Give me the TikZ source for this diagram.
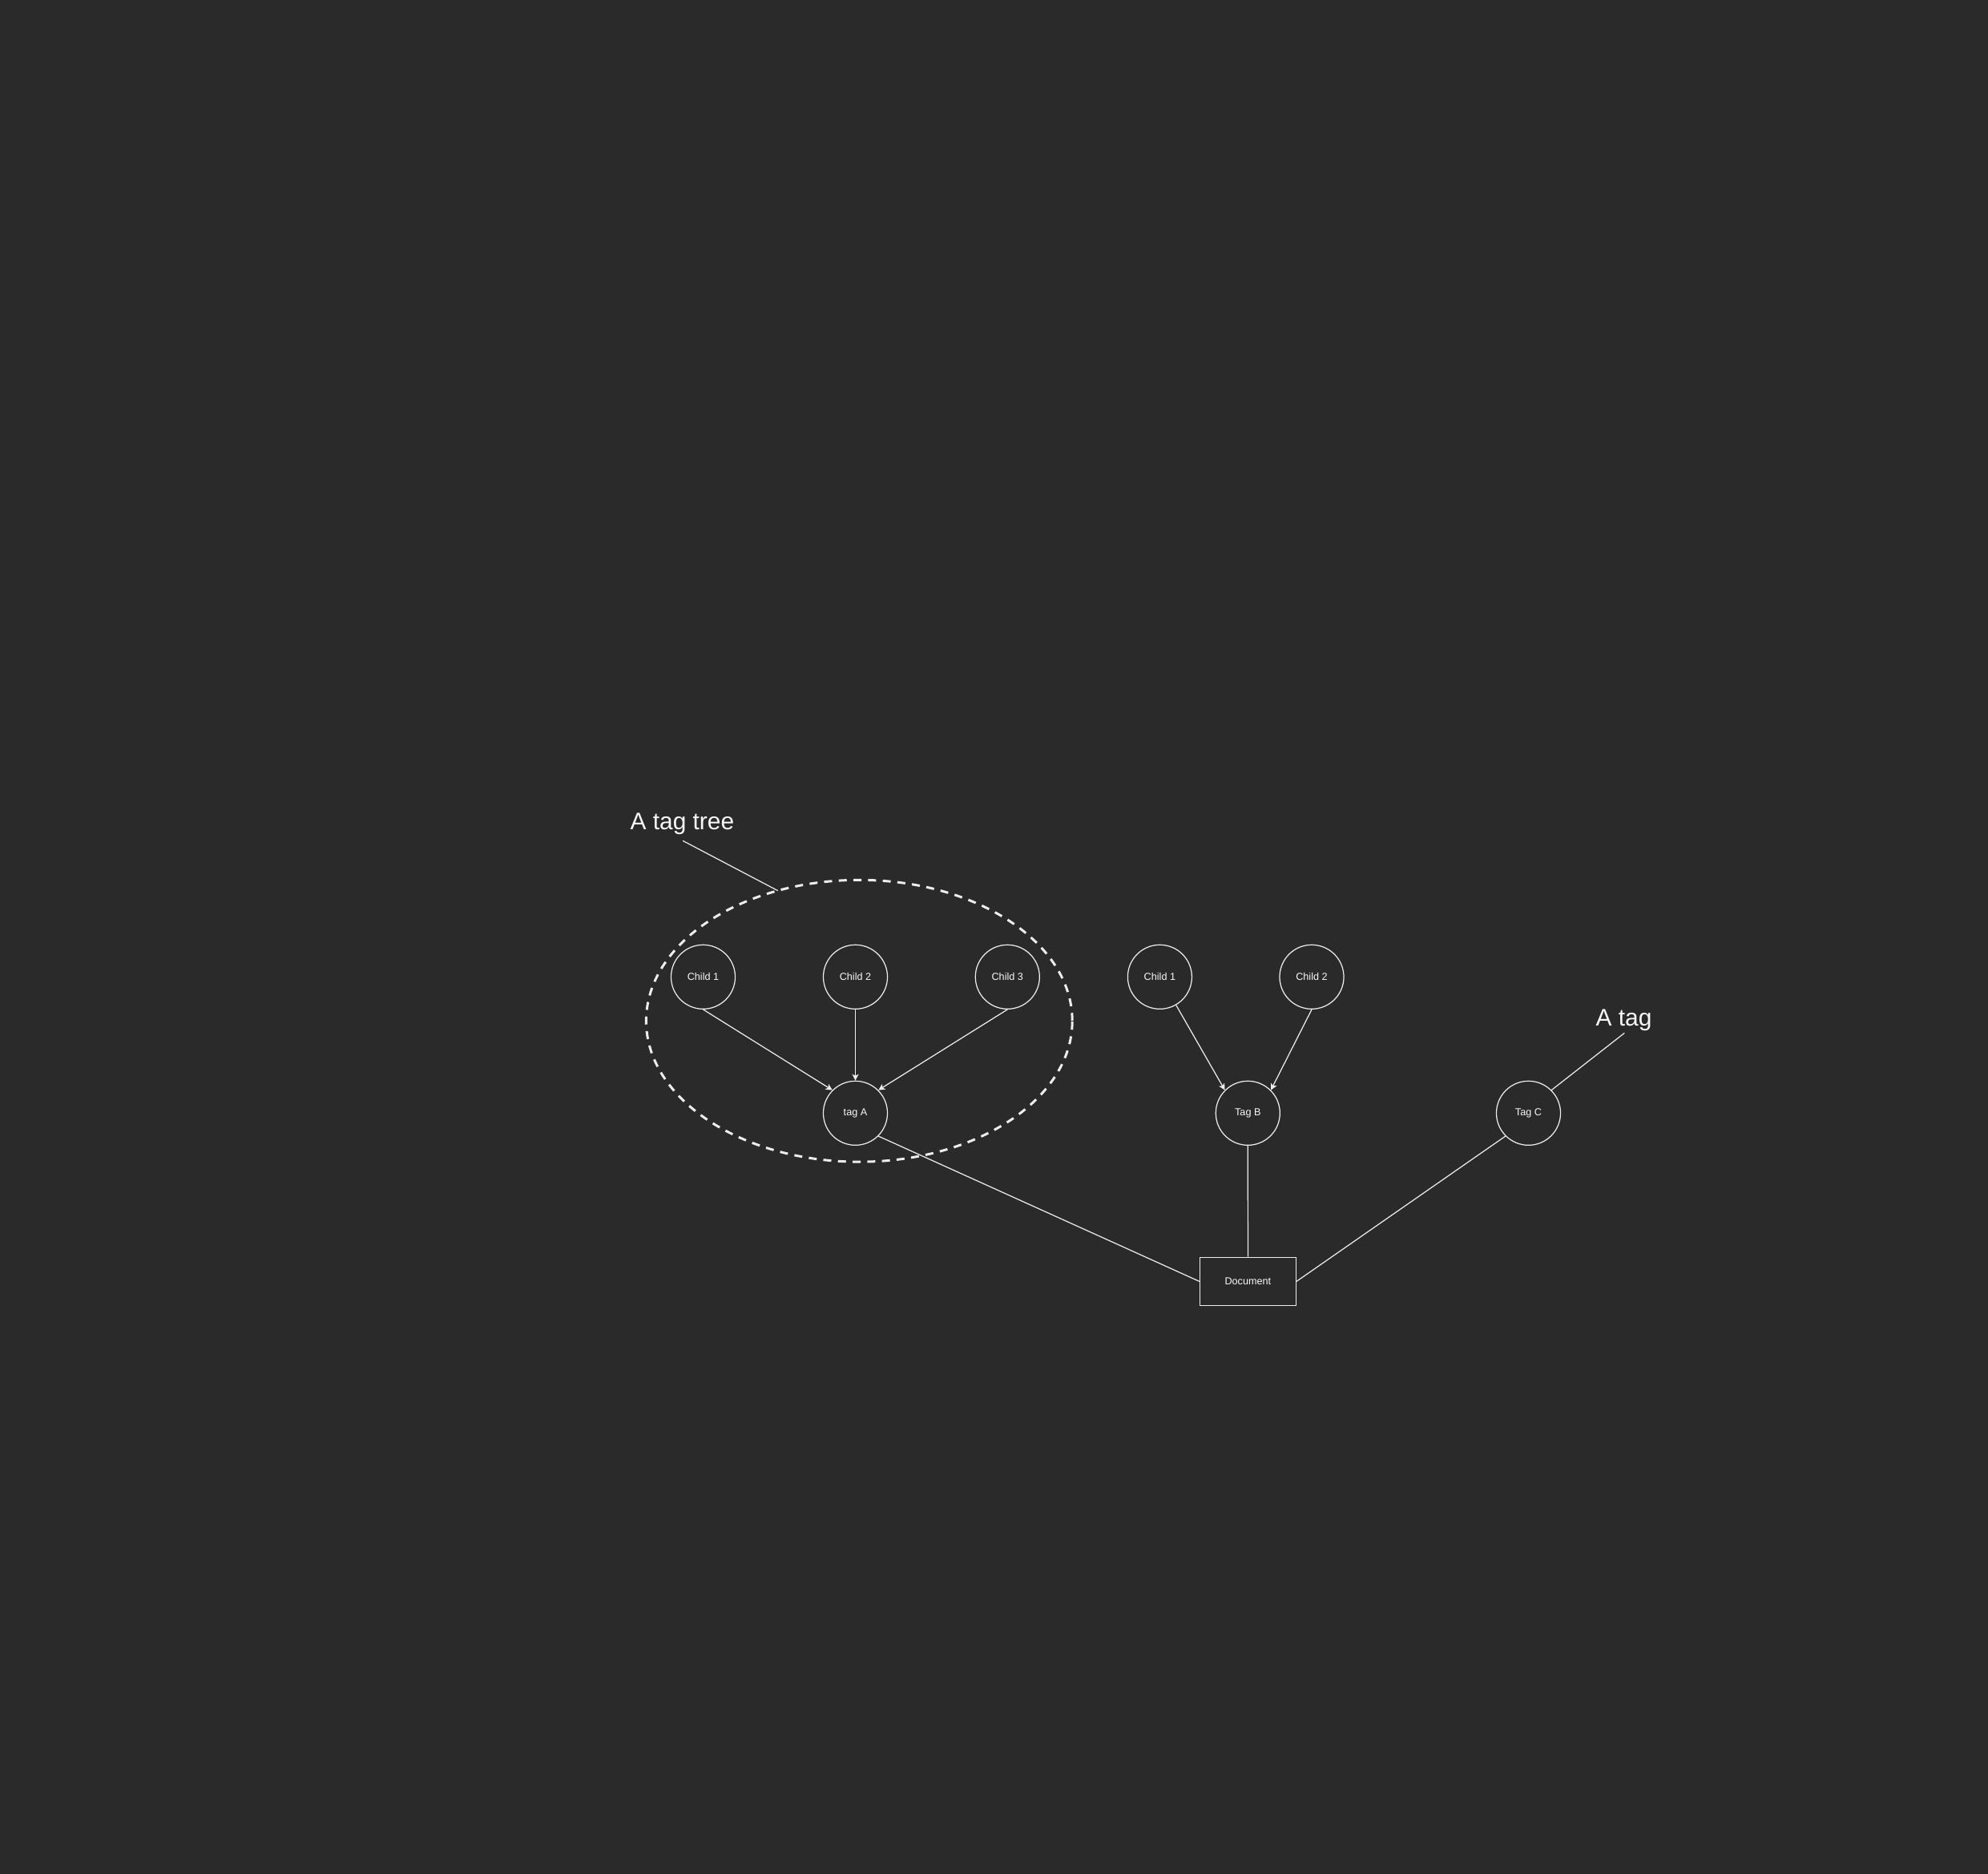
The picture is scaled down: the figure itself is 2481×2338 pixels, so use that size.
\documentclass[tikz,border=0pt]{standalone}
\usepackage{fontspec}
\setmainfont{Liberation Sans}
\usetikzlibrary{arrows.meta,shapes.geometric}
\definecolor{bg}{HTML}{2A2A2A}
\definecolor{ink}{HTML}{EDEDED}
\definecolor{txt}{HTML}{F8F8F8}
\begin{document}
\begin{tikzpicture}[x=0.01cm,y=-0.01cm,
  thin line/.style={draw=ink, line width=0.35pt},
  tagnode/.style={circle, thin line, minimum size=0.8cm, inner sep=0pt, text=txt, font=\fontsize{3.6pt}{4pt}\selectfont},
  docnode/.style={rectangle, thin line, minimum width=1.2cm, minimum height=0.6cm, inner sep=0pt, text=txt, font=\fontsize{3.6pt}{4pt}\selectfont},
  arr/.style={thin line, -{Stealth[length=0.08cm, width=0.08cm, inset=0.02cm]}},
  bigtext/.style={text=txt, anchor=base, inner sep=0pt, font=\fontsize{8.5pt}{10pt}\selectfont},
  grouping/.style={draw=ink, line width=0.85pt, dash pattern=on 0.1cm off 0.083cm}
]
\useasboundingbox (0,0) rectangle (2481,2338);
\fill[bg] (-10,-10) rectangle (2491,2348);

% tag tree group
\node[grouping, ellipse, minimum width=5.315cm, minimum height=3.516cm, inner sep=0pt, outer sep=0pt] (grp) at (1072.3,1274.2) {};

\node[tagnode] (a1) at (877.5,1219.3) {Child 1};
\node[tagnode] (a2) at (1067.5,1219.3) {Child 2};
\node[tagnode] (a3) at (1257.3,1219.3) {Child 3};
\node[tagnode] (tagA) at (1067.5,1389.3) {tag A};

\node[tagnode] (b1) at (1447.4,1219.3) {Child 1};
\node[tagnode] (b2) at (1637,1219.3) {Child 2};
\node[tagnode] (tagB) at (1557.3,1389.3) {Tag B};

\node[tagnode] (tagC) at (1907.5,1389.3) {Tag C};

\node[docnode] (doc) at (1557.4,1599.3) {Document};

\node[bigtext] (lblTree) at (851.4,1035) {A tag tree};
\node[bigtext] (lblTag) at (2026.6,1280.7) {A tag};
\coordinate (lblTreeEnd) at (852.1,1049.3);
\coordinate (lblTagEnd) at (2027.3,1289.3);

% arrows
\draw[arr] (a1.south) -- (tagA.135);
\draw[arr] (a2.south) -- (tagA.north);
\draw[arr] (a3.south) -- (tagA.45);
\draw[arr] (b1.-60) -- (tagB.135);
\draw[arr] (b2.south) -- (tagB.45);

% connectors to document
\draw[thin line] (tagA.-45) -- (doc.west);
\draw[thin line] (tagB.south) -- (doc.north);
\draw[thin line] (tagC.-135) -- (doc.east);

% callout lines
\draw[thin line] (lblTreeEnd) -- (grp.122);
\draw[thin line] (lblTagEnd) -- (tagC.45);
\end{tikzpicture}
\end{document}
